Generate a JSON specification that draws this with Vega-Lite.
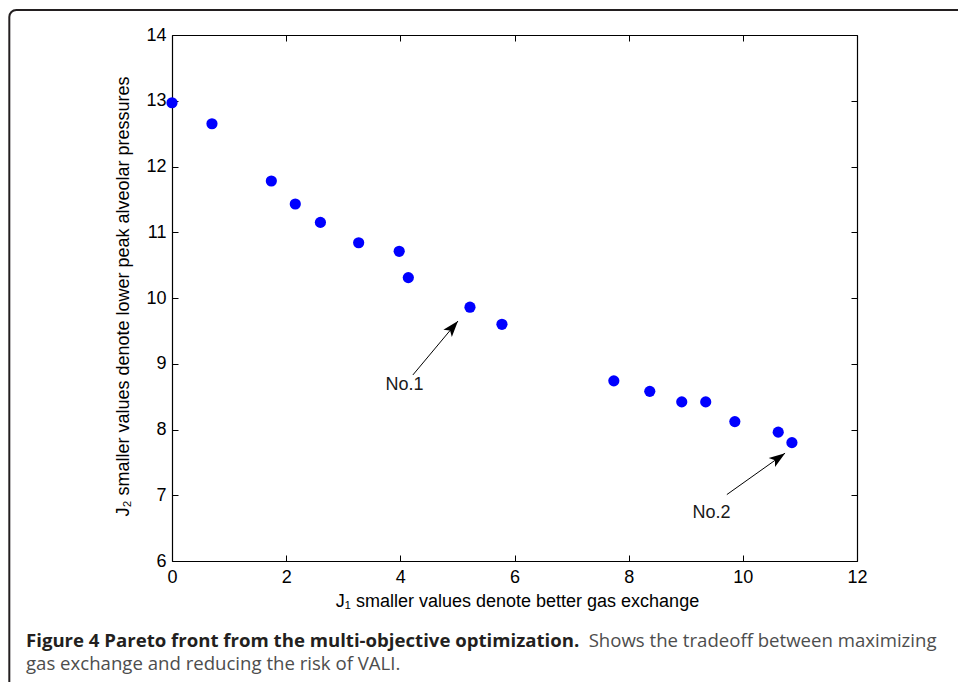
{
  "$schema": "https://vega.github.io/schema/vega-lite/v6.json",
  "autosize": "none",
  "width": 685,
  "height": 526,
  "padding": {"left": 172, "top": 35, "right": 101, "bottom": 121},
  "background": "white",
  "title": {
    "text": "Figure 4 Pareto front from the multi-objective optimization.",
    "subtitle": ["\u200b\u2003\u2003\u2003\u2003\u2003\u2003\u2003\u2003\u2003\u2003\u2003\u2003\u2003\u2003\u2003\u2003\u2003\u2003\u2003\u2003\u2003\u2003\u2003\u2003\u2003\u2003\u2003\u2003\u2003\u2003\u00a0Shows the tradeoff between maximizing", "gas exchange and reducing the risk of VALI."],
    "orient": "bottom",
    "anchor": "start",
    "frame": "group",
    "dx": -146,
    "offset": -58,
    "font": "Open Sans",
    "fontSize": 18.6,
    "fontWeight": "bold",
    "color": "#231f20",
    "subtitleFont": "Open Sans",
    "subtitleFontSize": 18.6,
    "subtitleColor": "#4d4d4d",
    "subtitleLineHeight": 23,
    "subtitlePadding": -18.6
  },
  "datasets": {
    "front": [
      {"j1": 0.0, "j2": 12.97},
      {"j1": 0.70, "j2": 12.65},
      {"j1": 1.74, "j2": 11.78},
      {"j1": 2.16, "j2": 11.43},
      {"j1": 2.60, "j2": 11.15},
      {"j1": 3.27, "j2": 10.84},
      {"j1": 3.98, "j2": 10.71},
      {"j1": 4.14, "j2": 10.31},
      {"j1": 5.22, "j2": 9.86},
      {"j1": 5.78, "j2": 9.60},
      {"j1": 7.74, "j2": 8.74},
      {"j1": 8.37, "j2": 8.58},
      {"j1": 8.93, "j2": 8.42},
      {"j1": 9.35, "j2": 8.42},
      {"j1": 9.86, "j2": 8.12},
      {"j1": 10.62, "j2": 7.96},
      {"j1": 10.86, "j2": 7.80}
    ],
    "notes": [
      {"label": "No.1", "x": 4.22, "y": 8.83, "xt": 5.01, "yt": 9.65, "angle": 40, "lx": 3.74, "ly": 8.60},
      {"label": "No.2", "x": 9.72, "y": 7.01, "xt": 10.74, "yt": 7.64, "angle": 55, "lx": 9.12, "ly": 6.66}
    ]
  },
  "layer": [
    {
      "data": {"values": [{}]},
      "mark": {"type": "rect", "fill": null, "stroke": "#231f20", "strokeWidth": 2, "cornerRadius": 7},
      "encoding": {
        "x": {"datum": -2.85, "type": "quantitative", "scale": {"domain": [0, 12], "nice": false, "zero": false}, "axis": null},
        "x2": {"datum": 14},
        "y": {"datum": 14.38, "type": "quantitative", "scale": {"domain": [6, 14], "nice": false, "zero": false}, "axis": null},
        "y2": {"datum": 4.05}
      }
    },
    {
      "data": {"name": "front"},
      "mark": {"type": "point", "shape": "circle", "filled": true, "size": 125, "color": "#0000ff", "opacity": 1},
      "encoding": {
        "x": {
          "field": "j1", "type": "quantitative",
          "axis": {
            "orient": "bottom",
            "values": [0, 2, 4, 6, 8, 10, 12],
            "title": "J\u2081 smaller values denote better gas exchange",
            "titleX": 345,
            "titleY": 45,
            "titleBaseline": "alphabetic",
            "labelPadding": 13
          }
        },
        "y": {
          "field": "j2", "type": "quantitative",
          "axis": {
            "orient": "left",
            "values": [6, 7, 8, 9, 10, 11, 12, 13, 14],
            "title": "J\u2082 smaller values denote lower peak alveolar pressures",
            "titleX": -44,
            "titleY": 261,
            "titleAngle": -90,
            "titleBaseline": "alphabetic",
            "labelPadding": 12
          }
        }
      }
    },
    {
      "data": {"name": "notes"},
      "mark": {"type": "rule", "color": "#000000", "strokeWidth": 1},
      "encoding": {
        "x": {
          "field": "x", "type": "quantitative",
          "axis": {"orient": "top", "values": [0, 2, 4, 6, 8, 10, 12], "labels": false, "title": null}
        },
        "y": {
          "field": "y", "type": "quantitative",
          "axis": {"orient": "right", "values": [6, 7, 8, 9, 10, 11, 12, 13, 14], "labels": false, "title": null}
        },
        "x2": {"field": "xt"},
        "y2": {"field": "yt"}
      }
    },
    {
      "data": {"name": "notes"},
      "mark": {"type": "point", "shape": "M0,0L0.65,1.9L0,1.45L-0.65,1.9Z", "filled": true, "size": 289, "color": "#000000", "opacity": 1},
      "encoding": {
        "x": {"field": "xt", "type": "quantitative", "axis": null},
        "y": {"field": "yt", "type": "quantitative", "axis": null},
        "angle": {"field": "angle", "type": "quantitative", "scale": null}
      }
    },
    {
      "data": {"name": "notes"},
      "mark": {"type": "text", "align": "left", "baseline": "alphabetic", "font": "Liberation Sans", "fontSize": 18, "color": "#1a1a1a"},
      "encoding": {
        "x": {"field": "lx", "type": "quantitative", "axis": null},
        "y": {"field": "ly", "type": "quantitative", "axis": null},
        "text": {"field": "label"}
      }
    }
  ],
  "resolve": {"axis": {"x": "independent", "y": "independent"}},
  "config": {
    "font": "Liberation Sans",
    "view": {"stroke": null},
    "axis": {
      "grid": false,
      "domainColor": "#000000",
      "domainWidth": 1.2,
      "tickColor": "#000000",
      "tickWidth": 1,
      "tickSize": -6,
      "labelFlush": false,
      "labelOverlap": false,
      "labelFont": "Liberation Sans",
      "labelFontSize": 18,
      "labelColor": "#000000",
      "titleFont": "Liberation Sans",
      "titleFontSize": 18,
      "titleFontWeight": "normal",
      "titleColor": "#000000"
    }
  }
}
